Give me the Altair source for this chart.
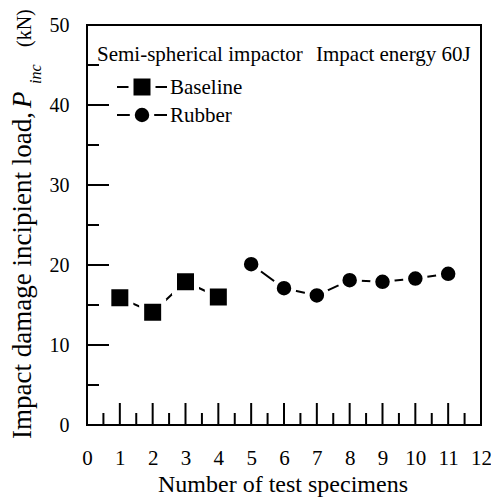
import altair as alt
import pandas as pd

base_x = [1, 2, 3, 4]
base_y = [15.9, 14.1, 17.9, 16.0]
rub_x = [5, 6, 7, 8, 9, 10, 11]
rub_y = [20.1, 17.1, 16.2, 18.1, 17.9, 18.3, 18.9]
x_ticks = list(range(0, 13))
x_major = list(range(1, 12))
x_minor = [i + 0.5 for i in range(0, 12)]
y_ticks = [0, 10, 20, 30, 40, 50]
y_major = [10, 20, 30, 40]
y_minor = [5, 15, 25, 35, 45]
header_left = "Semi-spherical impactor"
header_right = "Impact energy 60J"
series = ["Baseline", "Rubber"]
x_title = "Number of test specimens"
y_title_main = "Impact damage incipient load,"
y_title_p = "P"
y_title_sub = "inc"
y_title_unit = "(kN)"

FONT = "Liberation Serif"
W, H = 394, 400
OX, OY = 87, 25  # page position of plot origin


def px(v):
    return alt.value(v - OX)


def py(v):
    return alt.value(v - OY)


xs = alt.Scale(domain=[0, 12], nice=False)
ys = alt.Scale(domain=[0, 50], nice=False)

x_axis = alt.Axis(values=x_ticks, title=None, grid=False, ticks=False, domain=False,
                  labelFont=FONT, labelFontSize=21, labelColor="black",
                  labelPadding=22, labelFlush=False)
y_axis = alt.Axis(values=y_ticks, title=None, grid=False, ticks=False, domain=False,
                  labelFont=FONT, labelFontSize=20, labelColor="black",
                  labelPadding=18, labelFlush=False)


def X(field):
    return alt.X(field, scale=xs, axis=x_axis)


def Y(field):
    return alt.Y(field, scale=ys, axis=y_axis)


base_df = pd.DataFrame({"x": base_x, "y": base_y})
rub_df = pd.DataFrame({"x": rub_x, "y": rub_y})

base_line = alt.Chart(base_df).mark_line(color="black", strokeWidth=2).encode(
    x=X("x:Q"), y=Y("y:Q"))
rub_line = alt.Chart(rub_df).mark_line(color="black", strokeWidth=2).encode(
    x=X("x:Q"), y=Y("y:Q"))
base_pts = alt.Chart(base_df).mark_square(size=484, fill="black", stroke="white",
                                          strokeWidth=5, opacity=1).encode(
    x=X("x:Q"), y=Y("y:Q"))
rub_pts = alt.Chart(rub_df).mark_circle(size=380, fill="black", stroke="white",
                                        strokeWidth=5, opacity=1).encode(
    x=X("x:Q"), y=Y("y:Q"))


def xticks(vals, length):
    return alt.Chart(pd.DataFrame({"x": vals})).mark_rule(color="black", strokeWidth=2).encode(
        x=X("x:Q"), y=alt.value(H), y2=alt.value(H - length))


def yticks(vals, length):
    return alt.Chart(pd.DataFrame({"y": vals})).mark_rule(color="black", strokeWidth=2).encode(
        y=Y("y:Q"), x=alt.value(0), x2=alt.value(length))


one = pd.DataFrame({"a": [0]})


def text(t, x, y, size, align="left", baseline="alphabetic", angle=0, style="normal"):
    return alt.Chart(one).mark_text(text=t, font=FONT, fontSize=size, align=align,
                                    baseline=baseline, angle=angle, fontStyle=style,
                                    color="black").encode(x=px(x), y=py(y))


# legend
leg = []
for i, (name, shape) in enumerate(zip(series, ["square", "circle"])):
    yy = 87 + i * 28
    leg.append(alt.Chart(one).mark_rule(color="black", strokeWidth=2).encode(
        x=px(117), x2=px(167), y=py(yy)))
    if shape == "square":
        leg.append(alt.Chart(one).mark_square(size=484, fill="black", stroke="white",
                                              strokeWidth=5, opacity=1).encode(x=px(142), y=py(yy)))
    else:
        leg.append(alt.Chart(one).mark_circle(size=380, fill="black", stroke="white",
                                              strokeWidth=5, opacity=1).encode(x=px(142), y=py(yy)))
    leg.append(text(name, 170, yy + 1, 21, baseline="middle"))

texts = [
    text(header_left, 97, 61, 21),
    text(header_right, 316, 61, 21),
    text(x_title, 283, 492, 24, align="center"),
    text(y_title_main, 31, 112, 27, align="right", angle=270),
    text(y_title_p, 31, 108, 27, align="left", angle=270, style="italic"),
    text(y_title_sub, 41, 84, 16, align="left", angle=270, style="italic"),
    text(y_title_unit, 31, 47, 20, align="left", angle=270),
]

chart = alt.layer(
    base_line, rub_line, base_pts, rub_pts,
    xticks(x_major, 22), xticks(x_minor, 12),
    yticks(y_major, 22), yticks(y_minor, 12),
    *leg, *texts,
).properties(
    width=W, height=H,
    autosize=alt.AutoSizeParams(type="none"),
    padding={"left": OX - 8, "top": OY - 8, "right": 491 - OX - W, "bottom": 73},
).configure_view(stroke="black", strokeWidth=2)

chart.save("out.html", embed_options={"renderer": "svg", "actions": False})
